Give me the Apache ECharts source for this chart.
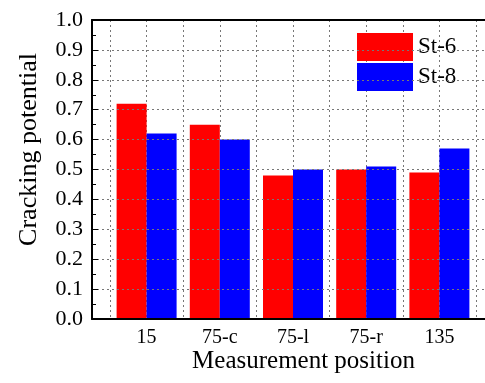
<!DOCTYPE html>
<html>
<head>
<meta charset="utf-8">
<script src="https://cdn.jsdelivr.net/npm/echarts@6/dist/echarts.min.js"></script>
<style>
  html, body { margin: 0; padding: 0; background: #fff; overflow: hidden; }
  #chart { width: 485px; height: 383px; overflow: hidden; }
</style>
</head>
<body>
<div id="chart"></div>
<script>
// Measurement positions along the specimen
const positions = ['15', '75-c', '75-l', '75-r', '135'];
// Cracking potential for each steel
const st6 = [0.72, 0.65, 0.48, 0.50, 0.49];
const st8 = [0.62, 0.60, 0.50, 0.51, 0.57];
const seriesNames = ['St-6', 'St-8'];
const yTicks = [0, 0.1, 0.2, 0.3, 0.4, 0.5, 0.6, 0.7, 0.8, 0.9, 1.0];

const FONT = 'Liberation Serif';
const gridDash = { color: '#777', width: 1, type: [2, 3] };

const chart = echarts.init(document.getElementById('chart'), null, { renderer: 'canvas' });

chart.setOption({
  animation: false,
  backgroundColor: '#fff',
  textStyle: { fontFamily: FONT, color: '#000' },
  grid: [
    // frame grid: axes, horizontal grid, titles (runs past the right edge)
    { left: 92, right: -30, top: 20, bottom: 64, outerBoundsMode: 'none', containLabel: false },
    // bar grid: category bands
    { left: 110, right: 9, top: 20, bottom: 64, outerBoundsMode: 'none', containLabel: false }
  ],
  legend: {
    orient: 'vertical',
    left: 357,
    top: 33,
    itemWidth: 56,
    itemHeight: 28,
    itemGap: 2,
    icon: 'rect',
    padding: 0,
    data: seriesNames,
    textStyle: { fontFamily: FONT, fontSize: 23, color: '#000' }
  },
  xAxis: [
    {
      gridIndex: 0, type: 'value', min: 0, max: 1, position: 'bottom', z: 5,
      axisLine: { show: true, lineStyle: { color: '#000', width: 2 } },
      axisTick: { show: false }, axisLabel: { show: false }, splitLine: { show: false },
      name: 'Measurement position', nameLocation: 'middle', nameGap: 30,
      nameTextStyle: { fontFamily: FONT, fontSize: 25, color: '#000' }
    },
    {
      gridIndex: 0, type: 'value', min: 0, max: 1, position: 'top', z: 5,
      axisLine: { show: true, lineStyle: { color: '#000', width: 2 } },
      axisTick: { show: false }, axisLabel: { show: false }, splitLine: { show: false }
    },
    {
      gridIndex: 1, type: 'category', data: positions, position: 'bottom',
      axisLine: { show: false }, axisTick: { show: false }, splitLine: { show: false },
      axisLabel: { fontFamily: FONT, fontSize: 20, color: '#000', margin: 9 }
    },
    {
      gridIndex: 1, type: 'value', min: 0, max: 5, interval: 0.5, position: 'top',
      axisLine: { show: false }, axisTick: { show: false }, axisLabel: { show: false },
      splitLine: { show: true, lineStyle: gridDash }
    }
  ],
  yAxis: [
    {
      gridIndex: 0, type: 'value', min: 0, max: 1, interval: 0.1, z: 5,
      axisLine: { show: true, lineStyle: { color: '#000', width: 2 } },
      axisTick: { show: true, inside: true, length: 6, lineStyle: { color: '#000', width: 1 } },
      minorTick: { show: true, splitNumber: 2, length: 4, lineStyle: { color: '#000', width: 1 } },
      axisLabel: {
        fontFamily: FONT, fontSize: 22, color: '#000', margin: 9,
        formatter: v => yTicks.includes(Math.round(v * 10) / 10) ? v.toFixed(1) : ''
      },
      splitLine: { show: true, lineStyle: gridDash },
      name: 'Cracking potential', nameLocation: 'middle', nameGap: 50,
      nameTextStyle: { fontFamily: FONT, fontSize: 26, color: '#000', padding: [0, 0, 0, 40] }
    },
    {
      gridIndex: 1, type: 'value', min: 0, max: 1, show: false
    }
  ],
  series: [
    {
      name: seriesNames[0], type: 'bar', xAxisIndex: 2, yAxisIndex: 1,
      data: st6, barWidth: 30, barGap: '0%',
      itemStyle: { color: '#ff0000' }
    },
    {
      name: seriesNames[1], type: 'bar', xAxisIndex: 2, yAxisIndex: 1,
      data: st8, barWidth: 30, barGap: '0%',
      itemStyle: { color: '#0000ff' }
    }
  ]
});
</script>
</body>
</html>
